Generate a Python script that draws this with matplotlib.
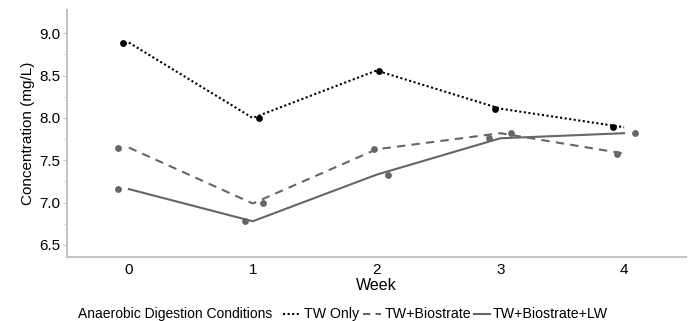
import matplotlib.pyplot as plt
from matplotlib.lines import Line2D
import numpy as np

plt.rcParams['font.family'] = ['Liberation Sans', 'DejaVu Sans']

# weeks and measured concentration (mg/L) per condition
weeks = [0, 1, 2, 3, 4]
tw_only = [8.89, 8.00, 8.56, 8.11, 7.89]
tw_bio = [7.65, 6.99, 7.63, 7.82, 7.58]
tw_bio_lw = [7.16, 6.78, 7.33, 7.76, 7.82]

# horizontal jitter of the points (JMP style)
jit_only = [-0.05, 0.05, 0.02, -0.04, -0.09]
jit_bio = [-0.09, 0.08, -0.02, 0.09, -0.06]
jit_lw = [-0.09, -0.06, 0.09, -0.09, 0.09]

labels = ['TW Only', 'TW+Biostrate', 'TW+Biostrate+LW']

W, H = 689, 321
fig = plt.figure(figsize=(W / 100, H / 100), dpi=100)
ax = fig.add_axes([67 / W, 1 - 257 / H, (686 - 67) / W, (257 - 10) / H])

gray = '#666666'
styles = [('black', (0, (1, 1.2))), (gray, (0, (4, 3))), (gray, '-')]
x = np.array(weeks)

for vals, jit, (col, ls) in zip([tw_only, tw_bio, tw_bio_lw], [jit_only, jit_bio, jit_lw], styles):
    ax.plot(x, vals, color=col, lw=1.5, linestyle=ls)
    ax.scatter(x + np.array(jit), vals, s=24, color=col, zorder=3, linewidths=0)

ax.set_xlim(-0.5, 4.5)
ax.set_ylim(6.358, 9.275)
ax.set_xticks(weeks)
ax.set_yticks([6.5, 7.0, 7.5, 8.0, 8.5, 9.0])
ax.set_yticklabels(['6.5', '7.0', '7.5', '8.0', '8.5', '9.0'])
ax.set_yticks(np.arange(6.5, 9.01, 0.25), minor=True)

for side in ['top', 'right']:
    ax.spines[side].set_visible(False)
for side in ['left', 'bottom']:
    ax.spines[side].set_color('#c4c4c4')
    ax.spines[side].set_linewidth(1.5)

ax.tick_params(axis='x', length=0, labelsize=11, pad=4)
ax.tick_params(axis='y', which='major', length=3, color='#c4c4c4', labelsize=11, pad=2)
ax.tick_params(axis='y', which='minor', length=2, color='#c4c4c4')

ax.set_xlabel('Week', fontsize=11.5, labelpad=1)
ax.set_ylabel('Concentration (mg/L)', fontsize=11, labelpad=3)

# legend along the bottom, laid out by hand in pixel positions
ly = 1 - 314 / H
fig.text(78 / W, ly, 'Anaerobic Digestion Conditions', fontsize=10, va='center')
legend_styles = [(0, (1, 1.2)), (0, (3.5, 2.5)), '-']
legend_pos = [(283, 299, 304), (363, 381, 385), (474, 490, 493)]
for lab, (col, _), ls, (x0, x1, xt) in zip(labels, styles, legend_styles, legend_pos):
    fig.add_artist(Line2D([x0 / W, x1 / W], [ly, ly], transform=fig.transFigure,
                          color=col, lw=1.5, linestyle=ls))
    fig.text(xt / W, ly, lab, fontsize=10.2, va='center')

fig.savefig('out.png', dpi=100)
